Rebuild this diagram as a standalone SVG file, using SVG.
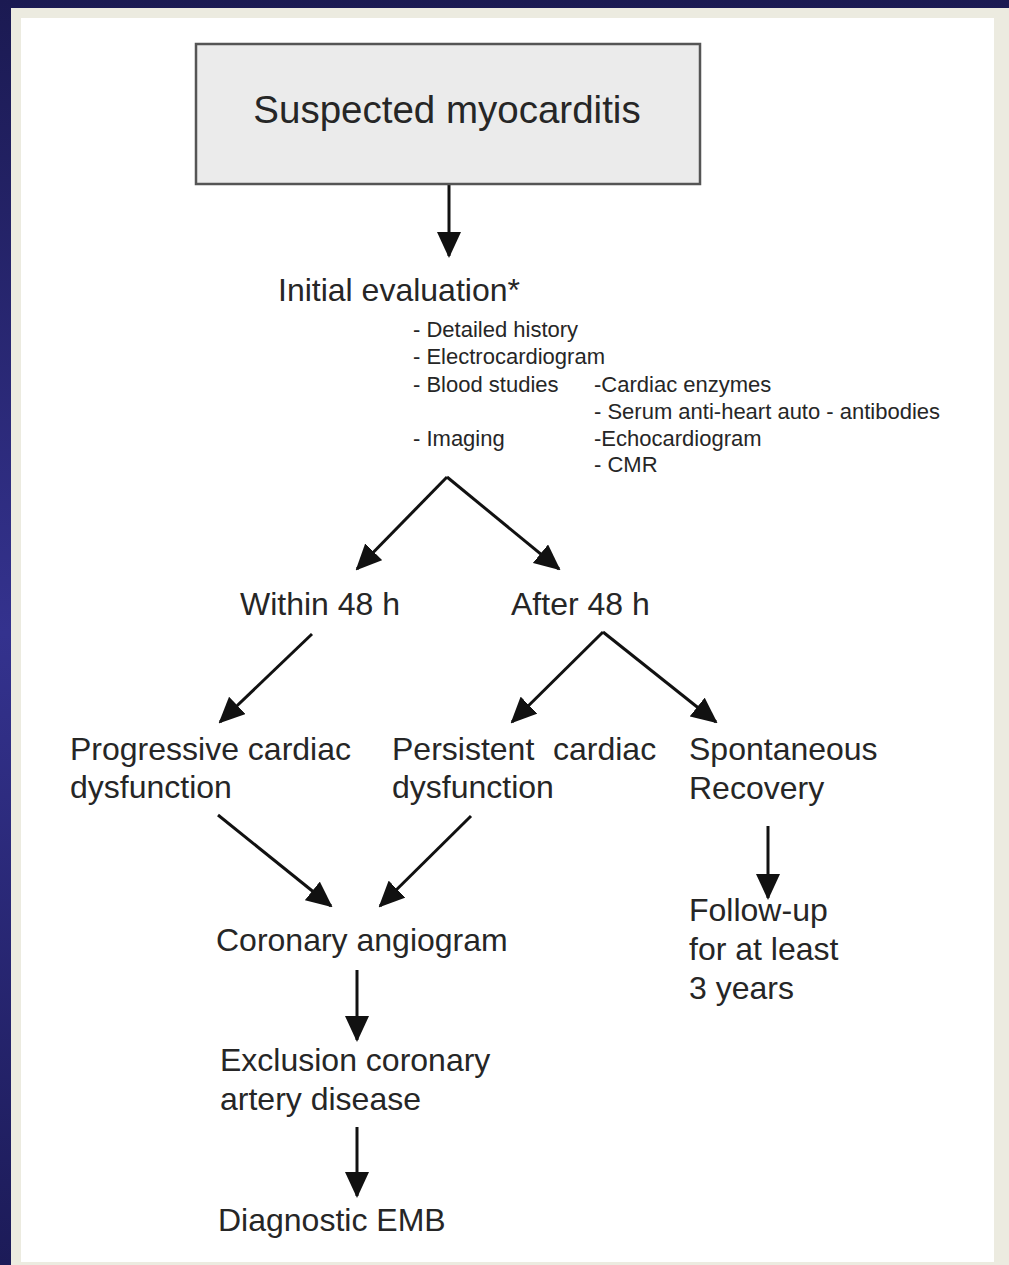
<svg xmlns="http://www.w3.org/2000/svg" width="1009" height="1265" viewBox="0 0 1009 1265">
  <style>
    .lbl { font-family: "Liberation Sans", Arial, sans-serif; font-size: 32px; fill: #262626; }
    .sub { font-family: "Liberation Sans", Arial, sans-serif; font-size: 22px; fill: #262626; }
    .title { font-family: "Liberation Sans", Arial, sans-serif; font-size: 38.5px; fill: #262626; }
    .edge { stroke: #111; stroke-width: 3; fill: none; marker-end: url(#head); }
  </style>
  <defs>
    <linearGradient id="navy" x1="0" y1="0" x2="0" y2="1">
      <stop offset="0" stop-color="#1b1a52"/>
      <stop offset="0.5" stop-color="#34328e"/>
      <stop offset="1" stop-color="#1c1b58"/>
    </linearGradient>
    <marker id="head" viewBox="0 0 26 24" refX="24" refY="12" markerWidth="26" markerHeight="24" markerUnits="userSpaceOnUse" orient="auto">
      <path d="M0,0 L26,12 L0,24 Z" fill="#111"/>
    </marker>
  </defs>

  <!-- slide background, frame and page -->
  <rect x="0" y="0" width="1009" height="1265" fill="url(#navy)"/>
  <rect x="11" y="8" width="998" height="1257" fill="#ecebe0"/>
  <rect x="21" y="18" width="973" height="1244" fill="#ffffff"/>

  <!-- connectors -->
  <g id="connectors">
    <line class="edge" x1="449" y1="185" x2="449" y2="256"/>
    <line class="edge" x1="447" y1="477" x2="357" y2="569"/>
    <line class="edge" x1="447" y1="477" x2="559" y2="569"/>
    <line class="edge" x1="312" y1="634" x2="220" y2="722"/>
    <line class="edge" x1="603" y1="632" x2="512" y2="722"/>
    <line class="edge" x1="603" y1="632" x2="716" y2="722"/>
    <line class="edge" x1="218" y1="815" x2="331" y2="906"/>
    <line class="edge" x1="471" y1="816" x2="380" y2="906"/>
    <line class="edge" x1="357" y1="970" x2="357" y2="1040"/>
    <line class="edge" x1="357" y1="1127" x2="357" y2="1196"/>
    <line class="edge" x1="768" y1="826" x2="768" y2="898"/>
  </g>

  <g id="suspected">
    <rect x="196" y="44" width="504" height="140" fill="#ebebeb" stroke="#555" stroke-width="2.5"/>
    <text class="title" x="447" y="123" text-anchor="middle">Suspected myocarditis</text>
  </g>

  <g id="initial-evaluation">
    <text class="lbl" x="278" y="301">Initial evaluation*</text>
    <text class="sub" x="413" y="337">- Detailed history</text>
    <text class="sub" x="413" y="364">- Electrocardiogram</text>
    <text class="sub" x="413" y="392">- Blood studies</text>
    <text class="sub" x="413" y="446">- Imaging</text>
    <text class="sub" x="594" y="392">-Cardiac enzymes</text>
    <text class="sub" x="594" y="419">- Serum anti-heart auto - antibodies</text>
    <text class="sub" x="594" y="446">-Echocardiogram</text>
    <text class="sub" x="594" y="472">- CMR</text>
  </g>

  <g id="within-48h">
    <text class="lbl" x="240" y="615">Within 48 h</text>
  </g>

  <g id="after-48h">
    <text class="lbl" x="511" y="615">After 48 h</text>
  </g>

  <g id="progressive">
    <text class="lbl" x="70" y="760">Progressive cardiac</text>
    <text class="lbl" x="70" y="798">dysfunction</text>
  </g>

  <g id="persistent">
    <text class="lbl" y="760"><tspan x="392">Persistent</tspan><tspan x="553">cardiac</tspan></text>
    <text class="lbl" x="392" y="798">dysfunction</text>
  </g>

  <g id="spontaneous">
    <text class="lbl" x="689" y="760">Spontaneous</text>
    <text class="lbl" x="689" y="799">Recovery</text>
  </g>

  <g id="follow-up">
    <text class="lbl" x="689" y="921">Follow-up</text>
    <text class="lbl" x="689" y="960">for at least</text>
    <text class="lbl" x="689" y="999">3 years</text>
  </g>

  <g id="coronary-angiogram">
    <text class="lbl" x="216" y="951">Coronary angiogram</text>
  </g>

  <g id="exclusion">
    <text class="lbl" x="220" y="1071">Exclusion coronary</text>
    <text class="lbl" x="220" y="1110">artery disease</text>
  </g>

  <g id="diagnostic-emb">
    <text class="lbl" x="218" y="1231">Diagnostic EMB</text>
  </g>
</svg>
